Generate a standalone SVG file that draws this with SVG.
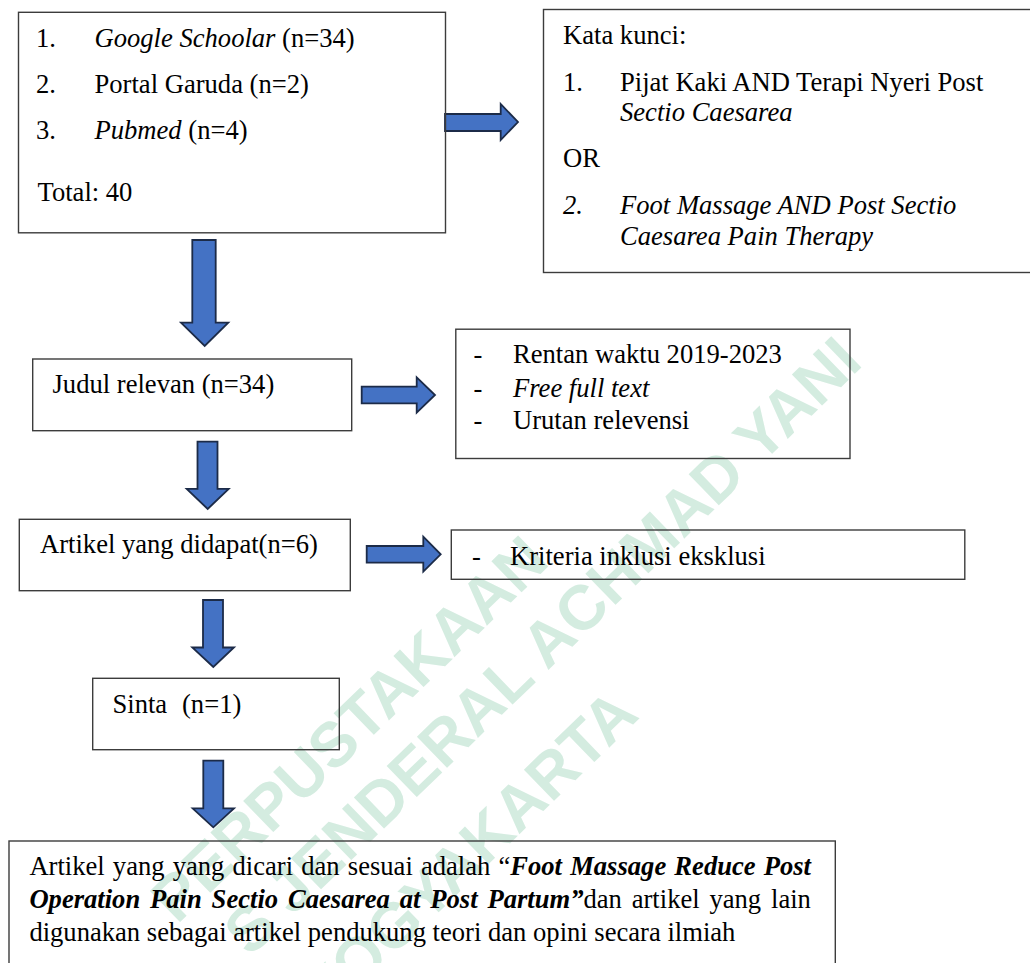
<svg xmlns="http://www.w3.org/2000/svg" width="1030" height="963" viewBox="0 0 1030 963">
<style>
.t{font-family:"Liberation Serif","Times New Roman",serif;font-size:26.6px;fill:#000}
.i{font-style:italic}
.bi{font-style:italic;font-weight:bold}
.box{fill:none;stroke:#3c3c3c;stroke-width:1.4}
.arr{fill:#4472C4;stroke:#1c2b48;stroke-width:1.8;stroke-linejoin:miter}
.wm{font-family:"Liberation Sans",Arial,sans-serif;font-weight:bold;font-size:63px;fill:#d4ece0}
</style>
<rect width="1030" height="963" fill="#fff"/>
<g id="watermark">
<text class="wm" x="177" y="925" transform="rotate(-44 177 925)">PERPUSTAKAAN</text>
<text class="wm" x="250" y="958" transform="rotate(-44 250 958)">S JENDERAL ACHMAD YANI</text>
<text class="wm" x="326" y="1021" transform="rotate(-44 326 1021)">YOGYAKARTA</text>
</g>
<g id="connectors">
<polygon class="arr" points="445,114 500.7,114 500.7,104 518,122 500.7,140 500.7,131 445,131"/>
<polygon class="arr" points="361.7,386.7 416.7,386.7 416.7,377.3 435,395 416.7,412.7 416.7,403.3 361.7,403.3"/>
<polygon class="arr" points="366.7,546 423.3,546 423.3,536.7 440.7,554.3 423.3,571.7 423.3,562.7 366.7,562.7"/>
<polygon class="arr" points="192.3,240 215.7,240 215.7,322.7 228.3,322.7 204.7,346 181,322.7 192.3,322.7"/>
<polygon class="arr" points="197.5,441.7 217.5,441.7 217.5,488.8 228.7,488.8 207.7,509 186.7,488.8 197.5,488.8"/>
<polygon class="arr" points="203,600 223,600 223,647.5 234,647.5 213.3,667 192.3,647.5 203,647.5"/>
<polygon class="arr" points="203.3,760.7 223.3,760.7 223.3,808.3 234,808.3 213.3,827.3 192.7,808.3 203.3,808.3"/>
</g>
<g id="sources">
<rect class="box" x="18.5" y="12.3" width="427" height="220.5"/>
<text class="t" x="36" y="46.7">1.</text>
<text class="t" x="94.5" y="46.7"><tspan class="i">Google Schoolar</tspan> (n=34)</text>
<text class="t" x="36" y="93.3">2.</text>
<text class="t" x="94.5" y="93.3">Portal Garuda (n=2)</text>
<text class="t" x="36" y="139.3">3.</text>
<text class="t" x="94.5" y="139.3"><tspan class="i">Pubmed</tspan> (n=4)</text>
<text class="t" x="37.5" y="201">Total: 40</text>
</g>
<g id="keywords">
<rect class="box" x="543.5" y="9.5" width="495" height="263"/>
<text class="t" x="563" y="44">Kata kunci:</text>
<text class="t" x="563" y="90.7">1.</text>
<text class="t" x="620" y="90.7">Pijat Kaki AND Terapi Nyeri Post</text>
<text class="t i" x="620" y="120.5">Sectio Caesarea</text>
<text class="t" x="563" y="166.7">OR</text>
<text class="t i" x="563" y="214">2.</text>
<text class="t i" x="620" y="214">Foot Massage AND Post Sectio</text>
<text class="t i" x="620" y="245">Caesarea Pain Therapy</text>
</g>
<g id="judul">
<rect class="box" x="32.7" y="359" width="319" height="71.7"/>
<text class="t" x="52.5" y="393.3">Judul relevan (n=34)</text>
</g>
<g id="filter">
<rect class="box" x="455.8" y="329.2" width="394.2" height="129.3"/>
<text class="t" x="473.5" y="363.3">-</text>
<text class="t" x="513" y="363.3">Rentan waktu 2019-2023</text>
<text class="t" x="473.5" y="396.7">-</text>
<text class="t i" x="513" y="396.7">Free full text</text>
<text class="t" x="473.5" y="429.3">-</text>
<text class="t" x="513" y="429.3">Urutan relevensi</text>
</g>
<g id="artikel">
<rect class="box" x="19.3" y="519.3" width="331" height="71.4"/>
<text class="t" x="40" y="553.3">Artikel yang didapat(n=6)</text>
</g>
<g id="kriteria">
<rect class="box" x="451.3" y="530" width="513.5" height="49.3"/>
<text class="t" x="472" y="565">-</text>
<text class="t" x="510" y="565">Kriteria inklusi eksklusi</text>
</g>
<g id="sinta">
<rect class="box" x="92.7" y="678.3" width="246.6" height="71.4"/>
<text class="t" x="112.5" y="713.3">Sinta</text>
<text class="t" x="182" y="713.3">(n=1)</text>
</g>
<g id="hasil">
<rect class="box" x="9" y="841" width="826.3" height="140"/>
<text class="t" x="29.4" y="875" style="word-spacing:1.5px">Artikel yang yang dicari dan sesuai adalah “<tspan class="bi">Foot Massage Reduce Post</tspan></text>
<text class="t" x="29.4" y="908.3" style="word-spacing:3.2px"><tspan class="bi">Operation Pain Sectio Caesarea at Post Partum”</tspan>dan artikel yang lain</text>
<text class="t" x="29.4" y="941.3">digunakan sebagai artikel pendukung teori dan opini secara ilmiah</text>
</g>
</svg>
